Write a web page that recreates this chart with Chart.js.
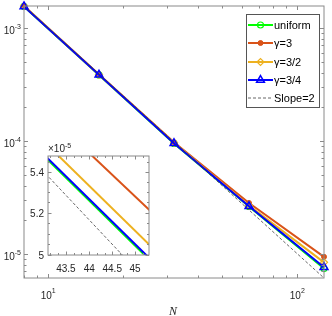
<!DOCTYPE html>
<html>
<head>
<title>Convergence plot</title>
<script src="https://cdn.jsdelivr.net/npm/chart.js"></script>
<style>
  body { margin: 0; background: #fff; }
  #wrap { position: relative; width: 332px; height: 316px; }
  canvas { position: absolute; }
</style>
</head>
<body>
<div id="wrap">
  <canvas id="main" width="332" height="316" style="left:0;top:0"></canvas>
  <canvas id="inset" width="140" height="140" style="left:20px;top:140px"></canvas>
</div>
<script>
// data
const N = [8, 16, 32, 64, 128];
const uniform = [1.55e-3, 3.83e-4, 9.49e-5, 2.625e-5, 7.4e-6];
const gamma3 = [1.56e-3, 3.86e-4, 9.7e-5, 2.816e-5, 9.4e-6];
const gamma32 = [1.56e-3, 3.85e-4, 9.6e-5, 2.668e-5, 8.4e-6];
const gamma34 = [1.55e-3, 3.84e-4, 9.5e-5, 2.63e-5, 7.6e-6];
const slopeN = [8, 128];
const slopeVals = [1.5625e-3, 6.1035e-6];

const seriesNames = ['uniform', 'γ=3', 'γ=3/2', 'γ=3/4', 'Slope=2'];
const xMajor = [10, 100];
const xExp = ['1', '2'];
const yMajor = [1e-5, 1e-4, 1e-3];
const yExp = ['-5', '-4', '-3'];
const insetXTicks = [43.5, 44, 44.5, 45];
const insetXLabels = ['43.5', '44', '44.5', '45'];
const insetYTicks = [5.0e-5, 5.2e-5, 5.4e-5];
const insetYLabels = ['5', '5.2', '5.4'];

const pts = (xs, ys) => xs.map((x, i) => ({x: x, y: ys[i]}));

function makeDatasets(withMarkers) {
  const r = withMarkers ? 1 : 0;
  return [
    {label: seriesNames[0], data: pts(N, uniform), borderColor: '#00ff00', borderWidth: 2,
     pointStyle: 'circle', pointRadius: 3 * r, pointBorderWidth: 1.2,
     pointBackgroundColor: 'rgba(0,0,0,0)', pointBorderColor: '#00ff00', order: 4},
    {label: seriesNames[1], data: pts(N, gamma3), borderColor: '#D95319', borderWidth: 2,
     pointStyle: 'circle', pointRadius: 2.5 * r, pointBorderWidth: 1,
     pointBackgroundColor: '#D95319', pointBorderColor: '#D95319', order: 3},
    {label: seriesNames[2], data: pts(N, gamma32), borderColor: '#EDB120', borderWidth: 2,
     pointStyle: 'rectRot', pointRadius: 3.5 * r, pointBorderWidth: 1.2,
     pointBackgroundColor: 'rgba(0,0,0,0)', pointBorderColor: '#EDB120', order: 2},
    {label: seriesNames[3], data: pts(N, gamma34), borderColor: '#0000ff', borderWidth: 2,
     pointStyle: 'triangle', pointRadius: 4.5 * r, pointBorderWidth: 1.5,
     pointBackgroundColor: 'rgba(0,0,0,0)', pointBorderColor: '#0000ff', order: 1},
    {label: seriesNames[4], data: pts(slopeN, slopeVals), borderColor: '#404040', borderWidth: 0.8,
     borderDash: [3, 2], pointRadius: 0, order: 0}
  ];
}

const tickFont = "10px 'Liberation Sans', Arial, sans-serif";
const expFont = "7px 'Liberation Sans', Arial, sans-serif";
const axisGray = '#8a8a8a';
const textCol = '#262626';

function powLabel(ctx, base, exp, x, y, align, baseShift, expShift) {
  ctx.font = tickFont;
  const wb = ctx.measureText(base).width;
  ctx.font = expFont;
  const we = ctx.measureText(exp).width;
  let x0 = align === 'center' ? x - (wb + we) / 2 : x - wb - we;
  ctx.textAlign = 'left';
  ctx.fillStyle = textCol;
  ctx.font = tickFont;
  ctx.fillText(base, x0, y + baseShift);
  ctx.font = expFont;
  ctx.fillText(exp, x0 + wb, y + expShift);
}

function tickMarks(ctx, a, xs, ys, xLen, yLen) {
  ctx.beginPath();
  xs.forEach(p => {
    const px = Math.round(p.px) + 0.5;
    ctx.moveTo(px, a.bottom); ctx.lineTo(px, a.bottom - p.len);
    ctx.moveTo(px, a.top); ctx.lineTo(px, a.top + p.len);
  });
  ys.forEach(p => {
    const py = Math.round(p.py) + 0.5;
    ctx.moveTo(a.left, py); ctx.lineTo(a.left + p.len, py);
    ctx.moveTo(a.right, py); ctx.lineTo(a.right - p.len, py);
  });
  ctx.stroke();
}

const mainAxes = {
  id: 'mainAxes',
  afterDatasetsDraw(chart) {
    const ctx = chart.ctx, a = chart.chartArea;
    const xs = chart.scales.x, ys = chart.scales.y;
    ctx.save();
    ctx.strokeStyle = axisGray;
    ctx.lineWidth = 1;
    ctx.strokeRect(a.left, a.top, a.right - a.left, a.bottom - a.top);

    const xt = [];
    for (let d = 1; d <= 100; d *= 10) {
      for (let m = 1; m < 10; m++) {
        const v = d * m;
        if (v < xs.min || v > xs.max) continue;
        xt.push({px: xs.getPixelForValue(v), len: m === 1 ? 4 : 2.5});
      }
    }
    const yt = [];
    for (let d = 1e-6; d <= 1e-3 * 1.01; d *= 10) {
      for (let m = 1; m < 10; m++) {
        const v = d * m;
        if (v < ys.min || v > ys.max) continue;
        yt.push({py: ys.getPixelForValue(v), len: m === 1 ? 4 : 2.5});
      }
    }
    tickMarks(ctx, a, xt, yt);

    xMajor.forEach((v, i) => powLabel(ctx, '10', xExp[i], xs.getPixelForValue(v), 0, 'center', 299, 293));
    yMajor.forEach((v, i) => {
      const py = ys.getPixelForValue(v);
      powLabel(ctx, '10', yExp[i], 21, py, 'right', 6, 1.5);
    });

    ctx.fillStyle = textCol;
    ctx.font = "italic 12px 'Liberation Serif', 'Times New Roman', serif";
    ctx.textAlign = 'center';
    ctx.fillText('N', 173, 315);
    ctx.restore();
  },
  afterDraw(chart) {
    // legend box
    const ctx = chart.ctx;
    const bx = 246, by = 14, bw = 73, bh = 93;
    ctx.save();
    ctx.fillStyle = '#fff';
    ctx.fillRect(bx, by, bw, bh);
    ctx.strokeStyle = '#555';
    ctx.lineWidth = 1;
    ctx.strokeRect(bx + 0.5, by + 0.5, bw, bh);
    const rows = [25, 43, 62, 80, 98];
    chart.data.datasets.forEach((ds, i) => {
      const y = rows[i];
      ctx.strokeStyle = ds.borderColor;
      ctx.lineWidth = ds.borderWidth;
      ctx.setLineDash(ds.borderDash || []);
      ctx.beginPath();
      ctx.moveTo(248, y); ctx.lineTo(273, y);
      ctx.stroke();
      ctx.setLineDash([]);
      if (ds.pointRadius > 0) {
        ctx.fillStyle = ds.pointBackgroundColor;
        ctx.strokeStyle = ds.pointBorderColor;
        ctx.lineWidth = ds.pointBorderWidth;
        Chart.helpers.drawPoint(ctx, {pointStyle: ds.pointStyle, radius: ds.pointRadius,
          rotation: 0, borderWidth: ds.pointBorderWidth}, 260.5, y);
      }
      ctx.fillStyle = '#000';
      ctx.font = "11px 'Liberation Sans', Arial, sans-serif";
      ctx.textAlign = 'left';
      ctx.textBaseline = 'middle';
      ctx.fillText(ds.label, 274, y + 0.5);
    });
    ctx.restore();
  }
};

const mainChart = new Chart(document.getElementById('main'), {
  type: 'line',
  data: {datasets: makeDatasets(true).map(d => Object.assign(d, {clip: false}))},
  options: {
    responsive: false,
    animation: false,
    layout: {padding: {left: 24, top: 6, right: 8, bottom: 38}},
    elements: {line: {tension: 0}},
    scales: {
      x: {type: 'logarithmic', min: 8, max: 128, display: false},
      y: {type: 'logarithmic', min: 6.1035e-6, max: 1.5625e-3, display: false}
    },
    plugins: {legend: {display: false}, tooltip: {enabled: false}}
  },
  plugins: [mainAxes]
});

const insetAxes = {
  id: 'insetAxes',
  beforeDatasetsDraw(chart) {
    const ctx = chart.ctx, a = chart.chartArea;
    ctx.save();
    ctx.fillStyle = '#fff';
    ctx.fillRect(a.left, a.top, a.right - a.left, a.bottom - a.top);
    ctx.restore();
  },
  afterDatasetsDraw(chart) {
    const ctx = chart.ctx, a = chart.chartArea;
    const xs = chart.scales.x, ys = chart.scales.y;
    ctx.save();
    ctx.strokeStyle = axisGray;
    ctx.lineWidth = 1;
    ctx.strokeRect(a.left, a.top, a.right - a.left, a.bottom - a.top);
    const xt = [];
    for (let k = 0; k <= 15; k++) {
      const v = 43 + k / 6;
      if (v < xs.min || v > xs.max) continue;
      xt.push({px: xs.getPixelForValue(v), len: k % 3 === 0 ? 3.5 : 2});
    }
    const yt = [];
    for (let k = 0; k <= 10; k++) {
      const v = 5.0e-5 + k * 0.05e-5;
      if (v < ys.min || v > ys.max * 1.0001) continue;
      yt.push({py: ys.getPixelForValue(v), len: k % 4 === 0 ? 3.5 : 2});
    }
    tickMarks(ctx, a, xt, yt);

    ctx.fillStyle = textCol;
    ctx.font = tickFont;
    ctx.textAlign = 'center';
    insetXTicks.forEach((v, i) => ctx.fillText(insetXLabels[i], xs.getPixelForValue(v), 132));
    ctx.textAlign = 'right';
    insetYTicks.forEach((v, i) => ctx.fillText(insetYLabels[i], 24, ys.getPixelForValue(v) + 4));
    // multiplier label
    ctx.textAlign = 'left';
    ctx.font = tickFont;
    const wx = ctx.measureText('×10').width;
    ctx.fillText('×10', 28, 12);
    ctx.font = expFont;
    ctx.fillText('-5', 28 + wx, 8);
    ctx.restore();
  }
};

const insetChart = new Chart(document.getElementById('inset'), {
  type: 'line',
  data: {datasets: makeDatasets(false).map(d => Object.assign(d, {clip: 0}))},
  options: {
    responsive: false,
    animation: false,
    layout: {padding: {left: 28, top: 16, right: 11, bottom: 25}},
    elements: {line: {tension: 0}},
    scales: {
      x: {type: 'logarithmic', min: 43.12, max: 45.31, display: false},
      y: {type: 'logarithmic', min: 5.0e-5, max: 5.48e-5, display: false}
    },
    plugins: {legend: {display: false}, tooltip: {enabled: false}}
  },
  plugins: [insetAxes]
});
</script>
</body>
</html>
